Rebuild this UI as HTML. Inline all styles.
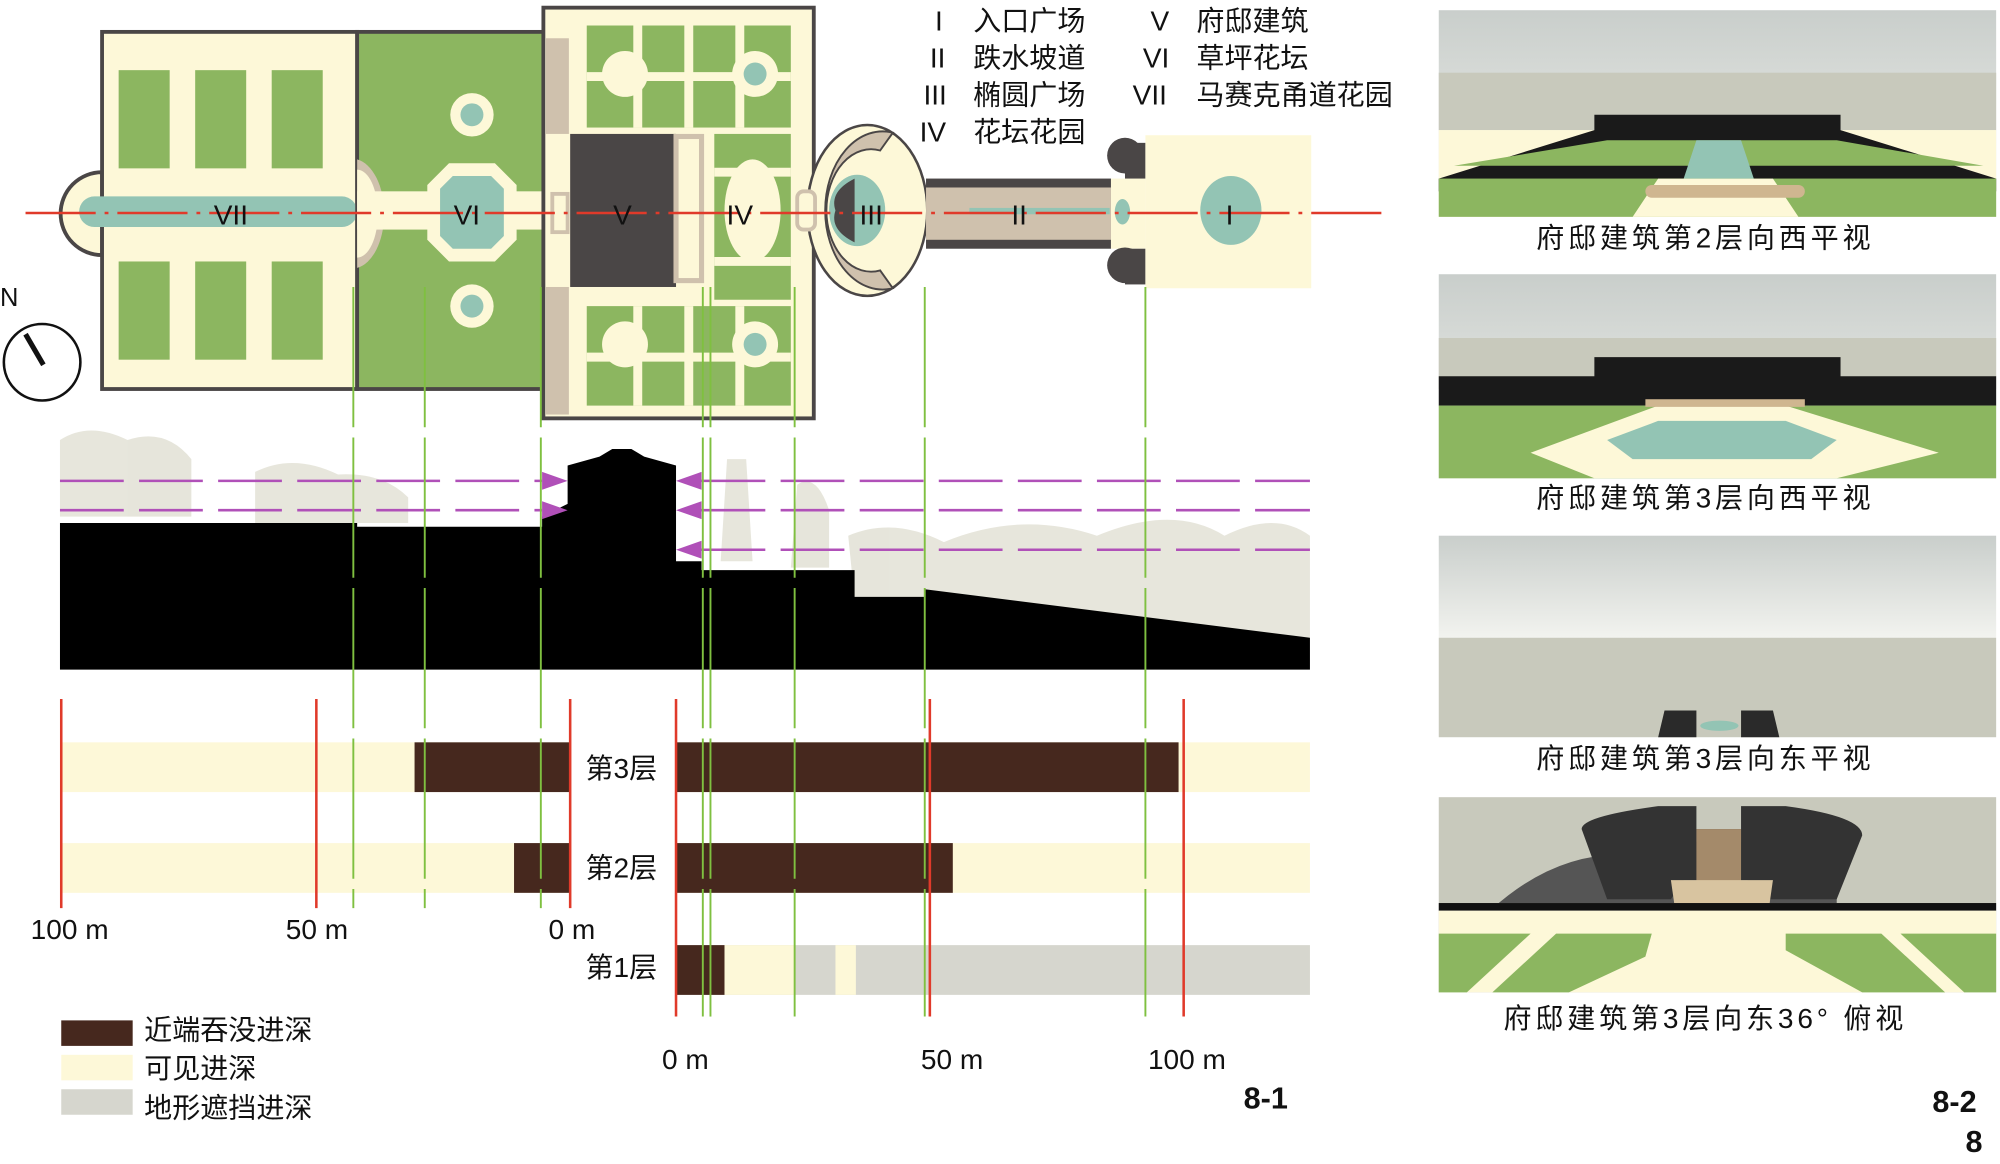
<!DOCTYPE html>
<html><head><meta charset="utf-8"><style>
html,body{margin:0;padding:0;background:#fff;}
svg{display:block;}
text{font-family:"Liberation Sans","Noto Sans CJK SC",sans-serif;}
</style></head><body>
<svg width="2000" height="1164" viewBox="0 0 1568 912.6" xmlns="http://www.w3.org/2000/svg">
<defs>
<linearGradient id="sky" x1="0" y1="0" x2="0" y2="1"><stop offset="0" stop-color="#c9cecb"/><stop offset="1" stop-color="#f2f3ef"/></linearGradient>
</defs>
<rect width="1568" height="913" fill="#fff"/>

<!-- ===== PLAN ===== -->
<path d="M80 135 A32 32 0 0 0 80 200 Z" fill="#fdf8d8" stroke="#4a4646" stroke-width="3"/>
<rect x="80" y="25" width="200" height="280" fill="#fdf8d8" stroke="#4a4646" stroke-width="3"/>
<g fill="#8cb660">
<rect x="93" y="55" width="40" height="77"/><rect x="153" y="55" width="40" height="77"/><rect x="213" y="55" width="40" height="77"/>
<rect x="93" y="205" width="40" height="77"/><rect x="153" y="205" width="40" height="77"/><rect x="213" y="205" width="40" height="77"/>
</g>
<rect x="62" y="154" width="218" height="24" rx="12" fill="#93c4b4"/>
<rect x="280" y="25" width="146" height="280" fill="#8cb660" stroke="#4a4646" stroke-width="3"/>
<path d="M280 125 A25 43 0 0 1 280 210 Z" fill="#cfc1ad"/>
<path d="M280 133 A16 34 0 0 1 280 202 Z" fill="#fdf8d8"/>
<rect x="280" y="150" width="146" height="30" fill="#fdf8d8"/>
<polygon points="352,128 388,128 405,145 405,188 388,205 352,205 335,188 335,145" fill="#fdf8d8"/>
<polygon points="355,138 385,138 395,148 395,185 385,195 355,195 345,185 345,148" fill="#93c4b4"/>
<circle cx="370" cy="90" r="17" fill="#fdf8d8"/><circle cx="370" cy="90" r="9" fill="#93c4b4"/>
<circle cx="370" cy="240" r="17" fill="#fdf8d8"/><circle cx="370" cy="240" r="9" fill="#93c4b4"/>
<rect x="426" y="6" width="212" height="322" fill="#fdf8d8" stroke="#4a4646" stroke-width="3"/>
<rect x="428" y="30" width="18" height="75" fill="#cfc1ad"/>
<rect x="428" y="225" width="18" height="100" fill="#cfc1ad"/>
<rect x="433" y="152" width="12" height="30" fill="none" stroke="#cfc1ad" stroke-width="3"/>
<g fill="#8cb660">
<rect x="460" y="20" width="160" height="80"/>
<rect x="460" y="240" width="160" height="78"/>
<rect x="560" y="105" width="60" height="130"/>
</g>
<g stroke="#fdf8d8" stroke-width="7" fill="none">
<line x1="460" y1="60" x2="620" y2="60"/><line x1="460" y1="280" x2="620" y2="280"/>
<line x1="500" y1="20" x2="500" y2="100"/><line x1="540" y1="20" x2="540" y2="100"/><line x1="580" y1="20" x2="580" y2="100"/>
<line x1="500" y1="240" x2="500" y2="318"/><line x1="540" y1="240" x2="540" y2="318"/><line x1="580" y1="240" x2="580" y2="318"/>
<line x1="560" y1="135" x2="620" y2="135"/><line x1="560" y1="205" x2="620" y2="205"/>
</g>
<circle cx="490" cy="58" r="18" fill="#fdf8d8"/><circle cx="592" cy="58" r="18" fill="#fdf8d8"/><circle cx="592" cy="58" r="9" fill="#93c4b4"/>
<circle cx="490" cy="270" r="18" fill="#fdf8d8"/><circle cx="592" cy="270" r="18" fill="#fdf8d8"/><circle cx="592" cy="270" r="9" fill="#93c4b4"/>
<ellipse cx="590" cy="165" rx="22" ry="40" fill="#fdf8d8"/>
<rect x="447" y="105" width="83" height="120" fill="#4a4646"/>
<rect x="530" y="107" width="20" height="113" fill="none" stroke="#cfc1ad" stroke-width="4"/>
<ellipse cx="680" cy="165" rx="47" ry="67" fill="#fdf8d8" stroke="#4a4646" stroke-width="2"/>
<path d="M700 104 A45 62 0 1 0 700 226 L690 212 A35 48 0 1 1 690 118 Z" fill="#cfc1ad" stroke="#4a4646" stroke-width="1.5"/>
<ellipse cx="672" cy="165" rx="22" ry="28" fill="#93c4b4"/>
<path d="M670 140 Q650 150 655 165 Q650 180 670 190 Z" fill="#4a4646"/>
<rect x="625" y="150" width="14" height="30" rx="5" fill="#fdf8d8" stroke="#cfc1ad" stroke-width="3"/>
<rect x="726" y="140" width="145" height="55" fill="#4a4646"/>
<rect x="726" y="147" width="145" height="41" fill="#cfc1ad"/>
<rect x="871" y="140" width="27" height="55" fill="#fdf8d8"/>
<circle cx="882" cy="122" r="14" fill="#4a4646"/><circle cx="882" cy="208" r="14" fill="#4a4646"/>
<rect x="882" y="112" width="16" height="28" fill="#4a4646"/><rect x="882" y="195" width="16" height="28" fill="#4a4646"/>
<ellipse cx="880" cy="166" rx="6" ry="10" fill="#93c4b4"/>
<rect x="760" y="163" width="110" height="5" fill="#93c4b4"/>
<rect x="898" y="106" width="130" height="120" fill="#fdf8d8"/>
<ellipse cx="965" cy="165" rx="24" ry="27" fill="#93c4b4"/>
<line x1="20" y1="167" x2="1088" y2="167" stroke="#e03a2a" stroke-width="2" stroke-dasharray="55,7,3,7"/>
<g font-size="22" fill="#111" text-anchor="middle">
<text x="181" y="176">VII</text><text x="366" y="176">VI</text><text x="488" y="176">V</text><text x="580" y="176">IV</text><text x="683" y="176">III</text><text x="799" y="176">II</text><text x="964" y="176">I</text>
</g>
<g font-size="22" fill="#111">
<text x="733" y="24">I</text><text x="763" y="24">入口广场</text>
<text x="729" y="53">II</text><text x="763" y="53">跌水坡道</text>
<text x="724" y="82">III</text><text x="763" y="82">椭圆广场</text>
<text x="721" y="111">IV</text><text x="763" y="111">花坛花园</text>
<text x="902" y="24">V</text><text x="938" y="24">府邸建筑</text>
<text x="896" y="53">VI</text><text x="938" y="53">草坪花坛</text>
<text x="888" y="82">VII</text><text x="938" y="82">马赛克甬道花园</text>
</g>
<text x="0" y="240" font-size="20" fill="#111">N</text>
<circle cx="33" cy="284" r="30" fill="none" stroke="#111" stroke-width="2"/>
<line x1="20" y1="262" x2="34" y2="286" stroke="#111" stroke-width="4"/>

<!-- ===== SECTION ===== -->
<g fill="#e4e3d8" opacity="0.9">
<path d="M47 345 Q70 330 100 345 Q130 335 150 360 L150 405 L47 405 Z"/>
<path d="M200 370 Q230 355 265 372 Q300 370 320 390 L320 410 L200 410 Z"/>
<path d="M570 360 L585 360 L590 440 L565 440 Z"/>
<path d="M625 380 Q640 370 650 400 L650 445 L620 445 Z"/>
<path d="M665 420 Q700 405 740 425 Q800 400 860 420 Q920 395 960 420 Q1000 400 1027 420 L1027 500 L670 470 Z"/>
</g>
<path d="M47 410 L280 410 L280 413 L425 413 L425 405 L445 395 L445 365 L470 358 L480 352 L495 352 L505 358 L530 365 L530 440 L550 440 L550 447 L625 447 L625 447 L670 447 L670 468 L725 468 L725 462 L1027 500 L1027 525 L47 525 Z" fill="#000"/>
<g stroke="#b050b8" stroke-width="2" stroke-dasharray="50,12" fill="none">
<line x1="47" y1="377" x2="425" y2="377"/><line x1="47" y1="400" x2="425" y2="400"/>
<line x1="550" y1="377" x2="1027" y2="377"/><line x1="550" y1="400" x2="1027" y2="400"/><line x1="550" y1="431" x2="1027" y2="431"/>
</g>
<g fill="#b050b8">
<polygon points="425,370 445,377 425,384"/><polygon points="425,393 445,400 425,407"/>
<polygon points="550,370 530,377 550,384"/><polygon points="550,393 530,400 550,407"/><polygon points="550,424 530,431 550,438"/>
</g>

<!-- ===== BARS ===== -->
<rect x="48" y="582" width="399" height="39" fill="#fdf8d8"/><rect x="325" y="582" width="122" height="39" fill="#46281e"/>
<rect x="530" y="582" width="497" height="39" fill="#fdf8d8"/><rect x="530" y="582" width="394" height="39" fill="#46281e"/>
<rect x="48" y="661" width="399" height="39" fill="#fdf8d8"/><rect x="403" y="661" width="44" height="39" fill="#46281e"/>
<rect x="530" y="661" width="497" height="39" fill="#fdf8d8"/><rect x="530" y="661" width="217" height="39" fill="#46281e"/>
<rect x="530" y="741" width="497" height="39" fill="#d6d6ce"/><rect x="530" y="741" width="38" height="39" fill="#46281e"/>
<rect x="568" y="741" width="55" height="39" fill="#fdf8d8"/><rect x="655" y="741" width="16" height="39" fill="#fdf8d8"/>
<g stroke="#e03a2a" stroke-width="2">
<line x1="48" y1="548" x2="48" y2="712"/><line x1="248" y1="548" x2="248" y2="712"/><line x1="447" y1="548" x2="447" y2="712"/>
<line x1="530" y1="548" x2="530" y2="797"/><line x1="729" y1="548" x2="729" y2="797"/><line x1="928" y1="548" x2="928" y2="797"/>
</g>
<g stroke="#7fc040" stroke-width="1.5" stroke-dasharray="110,8">
<line x1="277" y1="225" x2="277" y2="712"/><line x1="333" y1="225" x2="333" y2="712"/><line x1="424" y1="225" x2="424" y2="712"/>
<line x1="551" y1="225" x2="551" y2="797"/><line x1="557" y1="225" x2="557" y2="797"/><line x1="623" y1="225" x2="623" y2="797"/>
<line x1="725" y1="225" x2="725" y2="797"/><line x1="898" y1="225" x2="898" y2="797"/>
</g>
<g font-size="22" fill="#111">
<text x="459" y="610">第3层</text><text x="459" y="688">第2层</text><text x="459" y="766">第1层</text>
<text x="24" y="736">100 m</text><text x="224" y="736">50 m</text><text x="430" y="736">0 m</text>
<text x="519" y="838">0 m</text><text x="722" y="838">50 m</text><text x="900" y="838">100 m</text>
<text x="113" y="815">近端吞没进深</text><text x="113" y="845">可见进深</text><text x="113" y="876">地形遮挡进深</text>
</g>
<rect x="48" y="800" width="56" height="20" fill="#46281e"/>
<rect x="48" y="827" width="56" height="20" fill="#fdf8d8"/>
<rect x="48" y="854" width="56" height="20" fill="#d6d6ce"/>
<text x="975" y="869" font-size="24" font-weight="bold" fill="#111">8-1</text>

<!-- ===== RIGHT PANELS ===== -->
<rect x="1128" y="8" width="437" height="162" fill="url(#sky)"/>
<rect x="1128" y="57" width="437" height="45" fill="#c8c9bc"/>
<rect x="1128" y="102" width="437" height="68" fill="#fdf8d8"/>
<polygon points="1128,140 1250,102 1250,90 1443,90 1443,102 1565,140 1565,150 1128,150" fill="#1a1a1a"/>
<polygon points="1140,130 1260,110 1440,110 1555,130" fill="#8cb660"/>
<polygon points="1330,110 1365,110 1375,140 1320,140" fill="#93c4b4"/>
<rect x="1128" y="140" width="437" height="30" fill="#8cb660"/>
<polygon points="1300,140 1390,140 1410,170 1280,170" fill="#fdf8d8"/>
<rect x="1290" y="145" width="125" height="10" rx="5" fill="#cfb690"/>
<rect x="1128" y="215" width="437" height="160" fill="url(#sky)"/>
<rect x="1128" y="265" width="437" height="40" fill="#c8c9bc"/>
<polygon points="1128,305 1128,295 1250,295 1250,280 1443,280 1443,295 1565,295 1565,318 1128,318" fill="#1a1a1a"/>
<rect x="1128" y="318" width="437" height="57" fill="#8cb660"/>
<polygon points="1200,355 1300,318 1400,318 1520,355 1440,375 1250,375" fill="#fdf8d8"/>
<polygon points="1260,345 1300,330 1400,330 1440,345 1420,360 1280,360" fill="#93c4b4"/>
<rect x="1290" y="313" width="125" height="6" fill="#cfb690"/>
<rect x="1128" y="420" width="437" height="80" fill="url(#sky)"/>
<rect x="1128" y="500" width="437" height="78" fill="#c8c9bc"/>
<polygon points="1300,578 1305,557 1330,557 1330,578" fill="#2a2a2a"/>
<polygon points="1365,578 1365,557 1390,557 1395,578" fill="#2a2a2a"/>
<ellipse cx="1348" cy="569" rx="15" ry="4" fill="#93c4b4"/>
<rect x="1128" y="625" width="437" height="153" fill="#c8c9bc"/>
<path d="M1175 708 Q1220 670 1270 670 L1300 650 L1400 650 L1440 680 L1440 708 Z" fill="#555"/>
<path d="M1240 650 Q1240 640 1300 632 L1330 632 L1330 660 L1365 660 L1365 632 L1400 632 Q1460 640 1460 655 L1440 705 L1380 705 L1370 690 L1320 690 L1310 705 L1260 705 Z" fill="#333"/>
<rect x="1330" y="650" width="35" height="60" fill="#a48a6a"/>
<path d="M1310 690 L1390 690 L1385 725 L1315 725 Z" fill="#d8c4a0"/>
<rect x="1128" y="708" width="437" height="6" fill="#111"/>
<rect x="1128" y="714" width="437" height="64" fill="#fdf8d8"/>
<polygon points="1128,732 1200,732 1150,778 1128,778" fill="#8cb660"/>
<polygon points="1220,732 1295,732 1290,750 1230,778 1170,778" fill="#8cb660"/>
<polygon points="1400,732 1475,732 1525,778 1460,778 1400,745" fill="#8cb660"/>
<polygon points="1490,732 1565,732 1565,778 1540,778" fill="#8cb660"/>
<g font-size="22" fill="#111" text-anchor="middle" letter-spacing="3">
<text x="1337" y="194">府邸建筑第2层向西平视</text>
<text x="1337" y="398">府邸建筑第3层向西平视</text>
<text x="1337" y="602">府邸建筑第3层向东平视</text>
<text x="1337" y="806">府邸建筑第3层向东36° 俯视</text>
</g>
<text x="1515" y="872" font-size="24" font-weight="bold" fill="#111">8-2</text>
<text x="1541" y="903" font-size="24" font-weight="bold" fill="#111">8</text>
</svg>
</body></html>
